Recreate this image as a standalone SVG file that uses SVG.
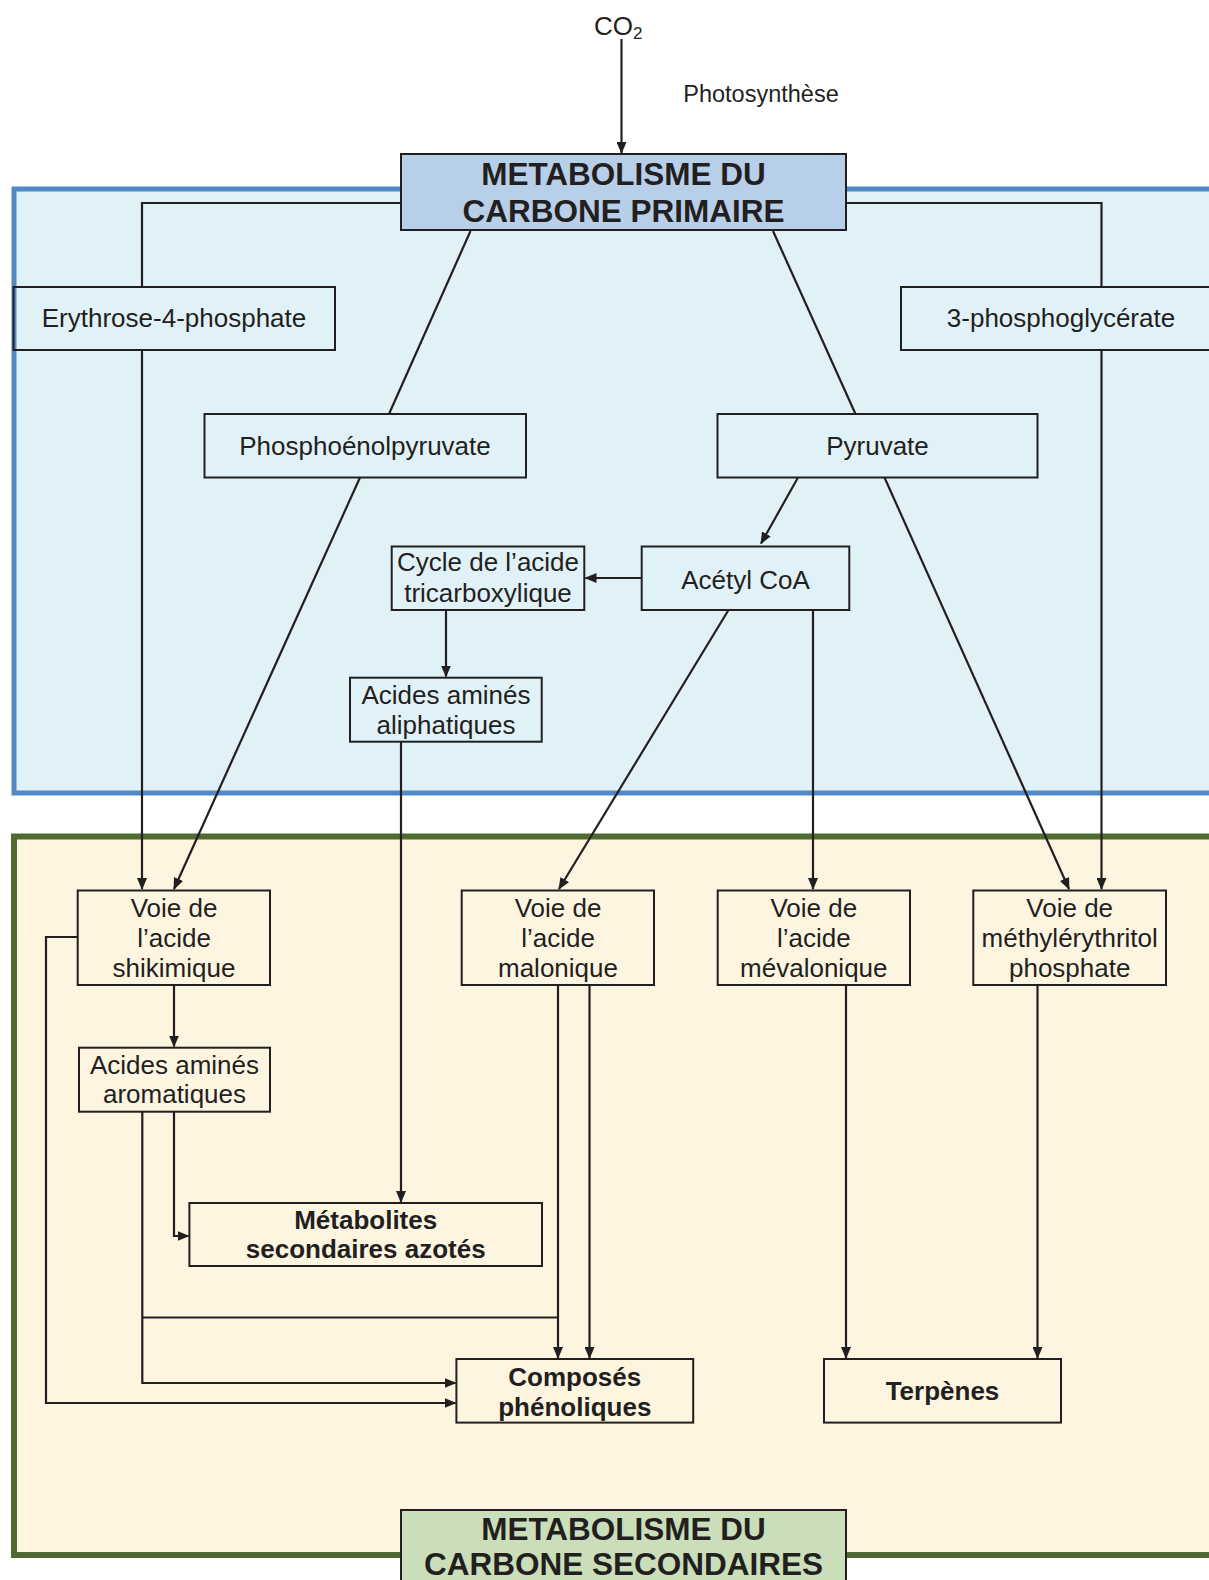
<svg xmlns="http://www.w3.org/2000/svg" width="1209" height="1580" viewBox="0 0 1209 1580">
<defs>
<style>
text{font-family:"Liberation Sans",Arial,sans-serif;fill:#231F20;text-anchor:middle}
.t{font-size:26px}
.b{font-size:26px;font-weight:bold}
.h{font-size:31.5px;font-weight:bold}
.box{fill:none;stroke:#231F20;stroke-width:2}
.ln{fill:none;stroke:#231F20;stroke-width:2.2}
.ar{marker-end:url(#ah)}
</style>
<marker id="ah" markerUnits="userSpaceOnUse" markerWidth="12" markerHeight="10" viewBox="0 0 12 10" refX="11" refY="5" orient="auto">
<path d="M0,0 L12,5 L0,10 z" fill="#231F20"/>
</marker>
</defs>
<rect width="1209" height="1580" fill="#FFFFFF"/>
<!-- regions -->
<rect x="14" y="189" width="1230" height="604" fill="#E0F2F8" stroke="#5089C6" stroke-width="5"/>
<rect x="14" y="836.5" width="1230" height="718.5" fill="#FDF5E0" stroke="#4F6B32" stroke-width="6"/>

<g id="connectors">
<line class="ln ar" x1="621.5" y1="39" x2="621.5" y2="153"/>
<polyline class="ln" points="401,203 142,203 142,287"/>
<polyline class="ln" points="846,203 1101.5,203 1101.5,287"/>
<line class="ln" x1="470.5" y1="231" x2="389" y2="414"/>
<line class="ln" x1="773" y1="231" x2="855.5" y2="414"/>
<line class="ln ar" x1="142" y1="350" x2="142" y2="889"/>
<line class="ln ar" x1="1101.5" y1="350" x2="1101.5" y2="889"/>
<line class="ln ar" x1="360" y1="477.5" x2="174" y2="889"/>
<line class="ln ar" x1="798" y1="477.5" x2="761" y2="543.5"/>
<line class="ln ar" x1="884.5" y1="477.5" x2="1069" y2="889"/>
<line class="ln ar" x1="641.7" y1="578" x2="585.5" y2="578"/>
<line class="ln ar" x1="446" y1="610" x2="446" y2="676.5"/>
<line class="ln ar" x1="728.5" y1="610" x2="559" y2="889"/>
<line class="ln ar" x1="813" y1="610" x2="813" y2="889"/>
<line class="ln ar" x1="401" y1="741.7" x2="401" y2="1202"/>
<line class="ln ar" x1="174" y1="985" x2="174" y2="1046.5"/>
<polyline class="ln ar" points="78,937 46,937 46,1403 455.5,1403"/>
<polyline class="ln ar" points="142.3,1111.7 142.3,1383 455.5,1383"/>
<polyline class="ln ar" points="174,1111.7 174,1236 188.5,1236"/>
<line class="ln" x1="142.3" y1="1317.5" x2="558" y2="1317.5"/>
<line class="ln ar" x1="558" y1="985" x2="558" y2="1358"/>
<line class="ln ar" x1="589.5" y1="985" x2="589.5" y2="1358"/>
<line class="ln ar" x1="846" y1="985" x2="846" y2="1358"/>
<line class="ln ar" x1="1037.5" y1="985" x2="1037.5" y2="1358"/>
</g>

<g id="co2">
<text x="594" y="35" style="font-size:26px;text-anchor:start">CO<tspan dy="4" style="font-size:17px">2</tspan></text>
</g>
<g id="photosynthese">
<text x="761" y="102" style="font-size:23.5px">Photosynthèse</text>
</g>
<g id="primaire">
<rect x="401" y="154" width="445" height="76" fill="#B8CFEA" stroke="#231F20" stroke-width="2"/>
<text class="h" x="623.5" y="185">METABOLISME DU</text>
<text class="h" x="623.5" y="222">CARBONE PRIMAIRE</text>
</g>
<g id="erythrose">
<rect class="box" x="13.5" y="287" width="321.5" height="63"/>
<text class="t" x="174" y="327">Erythrose-4-phosphate</text>
</g>
<g id="phosphoglycerate">
<rect class="box" x="901" y="287" width="330" height="63"/>
<text class="t" x="1061" y="327">3-phosphoglycérate</text>
</g>
<g id="pep">
<rect class="box" x="204.5" y="414" width="321.5" height="63.5"/>
<text class="t" x="365" y="455">Phosphoénolpyruvate</text>
</g>
<g id="pyruvate">
<rect class="box" x="717.5" y="414" width="320" height="63.5"/>
<text class="t" x="877.5" y="455">Pyruvate</text>
</g>
<g id="cycle">
<rect class="box" x="391.7" y="546.5" width="192.6" height="63.5"/>
<text class="t" x="488" y="571">Cycle de l’acide</text>
<text class="t" x="488" y="602">tricarboxylique</text>
</g>
<g id="acetyl">
<rect class="box" x="641.7" y="546.5" width="207.6" height="63.5"/>
<text class="t" x="745.5" y="588.5">Acétyl CoA</text>
</g>
<g id="aliphatiques">
<rect class="box" x="350" y="677.7" width="191.7" height="64"/>
<text class="t" x="446" y="704">Acides aminés</text>
<text class="t" x="446" y="734">aliphatiques</text>
</g>
<g id="shikimique">
<rect class="box" x="77.7" y="890.5" width="192.3" height="94.5"/>
<text class="t" x="174" y="917">Voie de</text>
<text class="t" x="174" y="947">l’acide</text>
<text class="t" x="174" y="977">shikimique</text>
</g>
<g id="malonique">
<rect class="box" x="461.7" y="890.5" width="192.3" height="94.5"/>
<text class="t" x="558" y="917">Voie de</text>
<text class="t" x="558" y="947">l’acide</text>
<text class="t" x="558" y="977">malonique</text>
</g>
<g id="mevalonique">
<rect class="box" x="717.7" y="890.5" width="192.3" height="94.5"/>
<text class="t" x="813.8" y="917">Voie de</text>
<text class="t" x="813.8" y="947">l’acide</text>
<text class="t" x="813.8" y="977">mévalonique</text>
</g>
<g id="mep">
<rect class="box" x="973.3" y="890.5" width="192.7" height="94.5"/>
<text class="t" x="1069.7" y="917">Voie de</text>
<text class="t" x="1069.7" y="947">méthylérythritol</text>
<text class="t" x="1069.7" y="977">phosphate</text>
</g>
<g id="aromatiques">
<rect class="box" x="79" y="1047.7" width="191" height="64"/>
<text class="t" x="174.5" y="1073.5">Acides aminés</text>
<text class="t" x="174.5" y="1103">aromatiques</text>
</g>
<g id="azotes">
<rect class="box" x="189.4" y="1203" width="352.6" height="63"/>
<text class="b" x="365.7" y="1229">Métabolites</text>
<text class="b" x="365.7" y="1258">secondaires azotés</text>
</g>
<g id="phenoliques">
<rect class="box" x="456.4" y="1359" width="236.8" height="63.6"/>
<text class="b" x="574.8" y="1385.5">Composés</text>
<text class="b" x="574.8" y="1415.5">phénoliques</text>
</g>
<g id="terpenes">
<rect class="box" x="824" y="1359" width="237" height="63.6"/>
<text class="b" x="942.5" y="1399.5">Terpènes</text>
</g>
<g id="secondaire">
<rect x="401" y="1510" width="445" height="80" fill="#CADFB9" stroke="#231F20" stroke-width="2"/>
<text class="h" x="623.5" y="1540">METABOLISME DU</text>
<text class="h" x="623.5" y="1575">CARBONE SECONDAIRES</text>
</g>
</svg>
